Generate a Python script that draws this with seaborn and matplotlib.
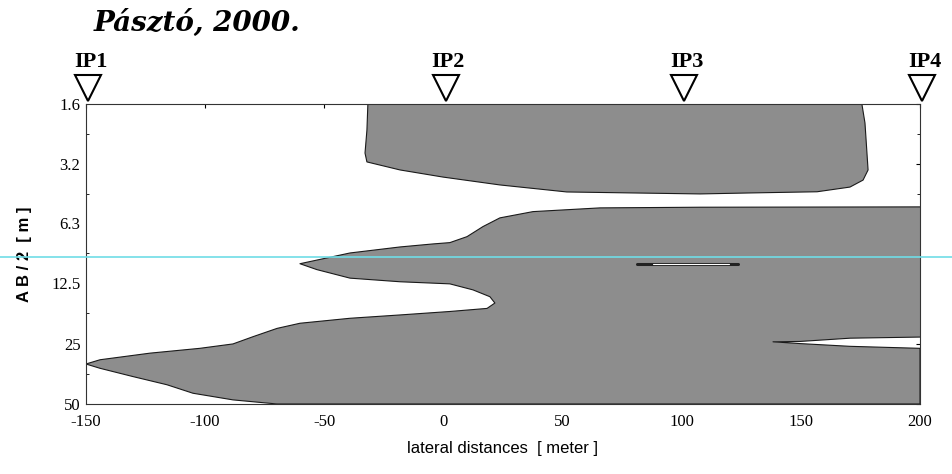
import numpy as np
import pandas as pd
import matplotlib
matplotlib.use('Agg')
import matplotlib.pyplot as plt
import seaborn as sns

# upper body (shallow resistive block)
upper_x = [-31.7, -32.1, -32.9, -32.1, -18.2, -0.2, 23.7, 51.8, 79.5, 107.7,
           128.6, 156.8, 170.6, 176.1, 178.2, 176.9, 175.6]
upper_y = [1.6, 2.16, 2.81, 3.11, 3.41, 3.70, 4.05, 4.39, 4.44, 4.49,
           4.44, 4.38, 4.15, 3.83, 3.41, 1.99, 1.6]

# lower body (deep block with two tongues and a notch at the right)
lower_x = [200, 107.7, 65.7, 37.6, 23.7, 16.6, 9.9, 2.7, -4.4, -18.2, -39.2, -60.2,
           -53.1, -39.2, -18.2, 2.7, 12.4, 19.5, 21.6,
           18.3, 2.7, -18.2, -39.2, -60.2, -69.8, -79.9, -88.3, -102.2, -123.1, -144.1, -150,
           -144.1, -130.3, -116.0, -105.1, -88.3, -69.8,
           200, 200, 170.6, 149.6, 138.3, 149.6, 170.6, 200]
lower_y = [5.21, 5.23, 5.27, 5.50, 5.91, 6.53, 7.33, 7.85, 7.97, 8.25, 8.84, 10.0,
           10.7, 11.8, 12.3, 12.6, 13.5, 14.6, 15.7,
           16.7, 17.3, 18.0, 18.7, 19.8, 21.0, 23.1, 25.1, 26.4, 27.9, 30.1, 31.6,
           33.2, 36.5, 40.1, 44.2, 47.7, 50.0,
           50.0, 26.4, 25.8, 25.0, 24.5, 24.4, 23.5, 23.2]

# thin streak near IP3
streak_x = [81.2, 123.6]
streak_y = [10.0, 10.0]

ip_names = ['IP1', 'IP2', 'IP3', 'IP4']
ip_pos = [-150, 0, 100, 200]

y_ticks = [1.6, 3.2, 6.3, 12.5, 25, 50]
y_tick_labels = ['1.6', '3.2', '6.3', '12.5', '25', '50']
x_ticks = [-150, -100, -50, 0, 50, 100, 150, 200]

sns.set_style('white')
plt.rcParams['font.family'] = ['Liberation Serif', 'DejaVu Serif']
plt.rcParams['axes.unicode_minus'] = False
plt.rcParams['text.color'] = 'black'
plt.rcParams['axes.labelcolor'] = 'black'
plt.rcParams['xtick.color'] = 'black'
plt.rcParams['ytick.color'] = 'black'

fig = plt.figure(figsize=(9.53, 4.74), dpi=100)
ax = fig.add_axes([0.0902, 0.1477, 0.8752, 0.6329])

fill_col = '#8d8d8d'
for xs, ys in [(upper_x, upper_y), (lower_x, lower_y)]:
    ax.fill(xs, ys, color=fill_col, lw=0, zorder=1)
    d = pd.DataFrame({'x': xs, 'y': ys})
    sns.lineplot(data=d, x='x', y='y', sort=False, estimator=None, ax=ax,
                 color='#1a1a1a', lw=0.8, zorder=2)

sns.lineplot(x=streak_x, y=streak_y, ax=ax, color='#222222', lw=2.2, zorder=3)
sns.lineplot(x=[88, 120], y=streak_y, ax=ax, color='white', lw=0.8, zorder=4)

ax.set_yscale('log')
ax.set_xlim(-150, 200)
ax.set_ylim(50, 1.6)
ax.set_yticks(y_ticks)
ax.set_yticklabels(y_tick_labels)
ax.yaxis.set_minor_locator(matplotlib.ticker.FixedLocator(
    [np.sqrt(a * b) for a, b in zip(y_ticks[:-1], y_ticks[1:])]))
ax.yaxis.set_minor_formatter(matplotlib.ticker.NullFormatter())
ax.set_xticks(x_ticks)
ax.tick_params(axis='both', which='major', direction='in', length=3, width=0.8,
               labelsize=12, top=True, right=True, pad=4)
ax.tick_params(axis='x', which='major', pad=7)
ax.tick_params(axis='y', which='minor', direction='in', length=2, width=0.6,
               left=True, right=True)
for s in ax.spines.values():
    s.set_linestyle((0, (1, 1)))
    s.set_linewidth(0.8)
    s.set_color('#333333')

ax.set_xlabel('lateral distances  [ meter ]', fontsize=12,
              family=['Liberation Sans Narrow', 'Liberation Sans', 'DejaVu Sans'], labelpad=8)
ax.set_ylabel('A B / 2  [ m ]', fontsize=12, fontweight='bold',
              family=['Liberation Sans', 'DejaVu Sans'], labelpad=14)

# IP markers above the frame
trans = matplotlib.transforms.blended_transform_factory(ax.transData, ax.transAxes)
for name, p in zip(ip_names, ip_pos):
    ax.plot(p + 1, 1.053, marker='v', ms=19, mfc='white', mec='black', mew=1.5,
            transform=trans, clip_on=False, zorder=5)
    ax.text(p + 2, 1.14, name, transform=trans, ha='center', va='center',
            fontsize=16, fontweight='bold')

# scanner line across the page
ax.axhline(9.25, xmin=-0.11, xmax=1.05, color='#6fdde6', lw=1.2, clip_on=False, zorder=6)

fig.text(0.098, 0.952, 'Pásztó, 2000.', fontsize=20, fontweight='bold', fontstyle='italic',
         family=['DejaVu Serif'], ha='left', va='center')

fig.savefig('out.png', dpi=100)
